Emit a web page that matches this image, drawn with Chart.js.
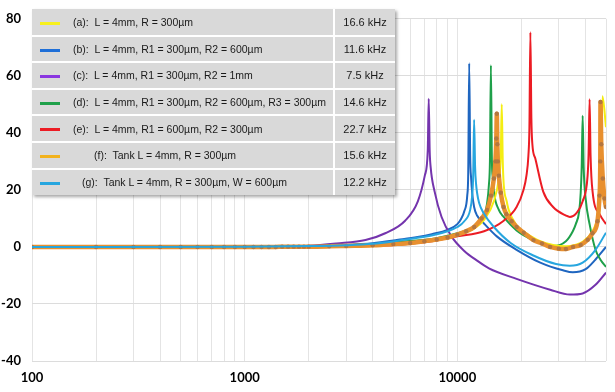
<!DOCTYPE html>
<html>
<head>
<meta charset="utf-8">
<script src="https://cdn.jsdelivr.net/npm/chart.js@4.4.1/dist/chart.umd.min.js"></script>
<style>
  html, body { margin: 0; padding: 0; background: #fff; }
  #wrap { position: relative; width: 615px; height: 392px; }
  #legendBox {
    position: absolute; left: 32px; top: 9px; width: 363px;
    border-collapse: collapse; background: #d9d9d9;
    box-shadow: 2px 2px 3px rgba(0, 0, 0, 0.35);
    font: 10.5px "Liberation Sans", Arial, sans-serif; color: #1a1a1a;
  }
  #legendBox tr { height: 26.6px; }
  #legendBox td { padding: 0; white-space: pre; border-bottom: 2px solid #fff; }
  #legendBox tr:last-child td { border-bottom: none; }
  #legendBox td.name { width: 301px; }
  #legendBox td.freq { border-left: 2px solid #fff; text-align: center; font-size: 11px; }
  #legendBox .swatch {
    display: inline-block; width: 20px; height: 3px; vertical-align: middle;
    margin: 0 13px 0 8px;
  }
  #legendBox tr:nth-child(6) .swatch { margin-right: 34px; }
  #legendBox tr:nth-child(7) .swatch { margin-right: 22px; }
</style>
</head>
<body>
<div id="wrap">
  <canvas id="myChart" width="615" height="392"></canvas>
  <table id="legendBox"><tbody id="legendBody"></tbody></table>
</div>
<script>
// legend texts
const seriesNames = [
    '(a):  L = 4mm, R = 300µm',
    '(b):  L = 4mm, R1 = 300µm, R2 = 600µm',
    '(c):  L = 4mm, R1 = 300µm, R2 = 1mm',
    '(d):  L = 4mm, R1 = 300µm, R2 = 600µm, R3 = 300µm',
    '(e):  L = 4mm, R1 = 600µm, R2 = 300µm',
    '(f):  Tank L = 4mm, R = 300µm',
    '(g):  Tank L = 4mm, R = 300µm, W = 600µm'
];
const resonance = ['16.6 kHz', '11.6 kHz', '7.5 kHz', '14.6 kHz', '22.7 kHz', '15.6 kHz', '12.2 kHz'];

// x axis gridlines / labels
const xTicks = [100, 200, 300, 400, 500, 600, 700, 800, 900,
    1000, 2000, 3000, 4000, 5000, 6000, 7000, 8000, 9000,
    10000, 20000, 30000, 40000, 50000];
const xLabels = [100, 1000, 10000];

// (a)
const freqA = [100, 1000, 2000, 3000, 5000, 7600, 10000, 12000, 13350, 14850, 15670, 16000, 16170, 16350, 16520, 17060, 17430, 18990, 20460, 24540, 28200, 32390, 36050, 38840, 43240, 45610, 47100, 48120, 50000];
const gainA = [0, 0, 0.1, 0.3, 0.9, 2.2, 4, 6.5, 9.5, 16, 24, 32, 50, 30, 22, 16, 13, 7.5, 5.5, 2, 0.7, 0.2, 0.8, 1.8, 5.5, 10, 18, 52.8, 42];
// (b)
const freqB = [100, 1000, 2000, 3000, 4000, 5270, 6500, 7580, 8990, 10000, 10440, 10780, 11130, 11250, 11370, 11490, 11610, 11740, 11990, 12380, 13350, 15330, 18990, 24540, 31370, 34910, 40100, 44640, 50000];
const gainB = [0, 0.1, 0.3, 0.7, 1.3, 2.5, 3.5, 4.5, 6, 8, 10, 12.5, 18, 26, 64.4, 32, 24, 19, 14, 11, 8.2, 3.7, -1, -5.5, -8.2, -8.9, -7.8, -4.4, 0];
// (c)
const freqC = [100, 1000, 1500, 2000, 2700, 3700, 4580, 5680, 6520, 7030, 7260, 7335, 7410, 7490, 7820, 8430, 9380, 10780, 12380, 14080, 18990, 27310, 33810, 38840, 44640, 50000];
const gainC = [0, 0.1, 0.25, 0.4, 1.2, 2.4, 4.8, 9.2, 16, 25, 34, 52, 34, 28, 19.4, 10.5, 3.7, -1.4, -4.8, -7.5, -11.2, -15, -16.7, -16.3, -13.3, -9];
// (d)
const freqD = [100, 1000, 2000, 3000, 4000, 5270, 7580, 10000, 10780, 12000, 12920, 13350, 13780, 14080, 14230, 14380, 14540, 14690, 14850, 15670, 16520, 18990, 22770, 28200, 32390, 34910, 36050, 37400, 38020, 38430, 38840, 39260, 40100, 41860, 44640, 47100, 50000];
const gainD = [0, 0.1, 0.3, 0.6, 1, 1.8, 2.8, 4.8, 5.5, 7, 8.8, 10.5, 15, 22, 30, 63.7, 30, 24, 19.4, 13, 10.5, 5.8, 2.4, 0.3, 2, 5.5, 8, 12.5, 19, 28, 46, 28, 17, 8, -1, -4.5, -7];
// (e)
const freqE = [100, 1000, 2000, 3000, 3700, 5270, 7580, 10000, 13350, 16520, 18990, 20460, 21130, 21580, 21820, 22050, 22290, 22530, 23260, 25340, 28200, 32390, 33810, 36050, 38840, 40970, 41420, 41860, 42310, 43240, 46600, 50000];
const gainE = [0, 0, 0.1, 0.2, 0.3, 0.8, 2, 3.7, 5.5, 9.2, 14, 20, 25, 32, 42, 75.3, 45, 36, 31, 19.4, 14, 11, 10.5, 11.6, 16, 25, 33, 51.8, 32, 19.4, 11.6, 8];
// (f) tank, sampled every 100 Hz at the low end
const freqF = [100, 200, 300, 400, 500, 600, 700, 800, 900, 1000, 1100, 1200, 1300, 1400, 1500, 1600, 1700, 1800, 1900, 2000,
    2500, 3000, 4000, 5000, 6000, 7000, 8000, 9000, 10000, 11000, 12000, 13000, 13800, 14400, 14850, 15100, 15250, 15330, 15420, 15500,
    15670, 16000, 16500, 17000, 18000, 19000, 20500, 22800, 25000, 27300, 30000, 32400, 35000, 38000, 41000, 43200, 45600, 46600, 47000, 47100,
    47500, 48300, 49200, 50000];
const gainF = [0, 0, 0, 0, 0, 0, 0, 0, 0, 0, 0, 0, 0, 0, 0.1, 0.1, 0.1, 0.1, 0.1, 0.1,
    0.2, 0.35, 0.6, 1, 1.4, 2, 2.6, 3.3, 4.3, 5.5, 7, 10, 13, 18, 24, 30, 38, 46.7, 36, 30,
    25, 19, 14, 11.5, 9, 7, 5, 2.4, 1.2, 0, -0.6, -0.7, 0, 0.7, 2.5, 4.8, 9, 18, 30, 50.8,
    36, 24, 17, 14];
// (g) tank
const freqG = [100, 1000, 2000, 3000, 4000, 5270, 6500, 7580, 8990, 10000, 10780, 11490, 11740, 11870, 11990, 12120, 12250, 12380, 12650, 13350, 14850, 17810, 22770, 29110, 33810, 38840, 44640, 50000];
const gainG = [0, 0.1, 0.3, 0.6, 1.1, 2.2, 3.2, 4, 5.5, 7, 9, 13, 18, 25, 44.6, 28, 22, 19, 15.5, 11.6, 7, 1.4, -3, -6, -6.6, -5.5, -1, 5];

const lineColors = ['#f4ed12', '#1f66c0', '#7434ad', '#1fa04a', '#ec1c24', '#e8902f', '#27a6df'];
const swatchColors = ['#f7f01c', '#1f6fd8', '#8a36e0', '#1fa04a', '#ec1c24', '#f2b21c', '#27a6df'];

function pairs(freq, gain) {
    return freq.map((f, i) => ({ x: f, y: gain[i] }));
}

// legend table
const body = document.getElementById('legendBody');
seriesNames.forEach((name, i) => {
    const row = document.createElement('tr');
    row.innerHTML = `<td class="name"><span class="swatch" style="background:${swatchColors[i]}"></span>${name}</td>` +
        `<td class="freq">${resonance[i]}</td>`;
    body.appendChild(row);
});

const allData = [
    [freqA, gainA], [freqB, gainB], [freqC, gainC], [freqD, gainD],
    [freqE, gainE], [freqF, gainF], [freqG, gainG]
];
const drawOrder = [3, 6, 5, 4, 2, 1, 0];

const datasets = allData.map((d, i) => ({
    label: seriesNames[i],
    data: pairs(d[0], d[1]),
    borderColor: lineColors[i],
    backgroundColor: lineColors[i],
    borderWidth: i === 5 ? 4.5 : 2,
    pointRadius: i === 5 ? 2.2 : 0,
    pointBackgroundColor: '#b4763f',
    pointBorderWidth: 0,
    fill: false,
    order: drawOrder[i]
}));

const axisFont = { family: 'Lato, "Open Sans", sans-serif', size: 13, weight: 'bold' };

new Chart(document.getElementById('myChart').getContext('2d'), {
    type: 'line',
    data: { datasets: datasets },
    options: {
        responsive: false,
        animation: false,
        layout: { padding: { top: 9, right: 3, left: 0, bottom: 0 } },
        elements: { line: { cubicInterpolationMode: 'monotone' } },
        plugins: { legend: { display: false }, tooltip: { enabled: false } },
        scales: {
            x: {
                type: 'logarithmic',
                min: 100,
                max: 50000,
                afterBuildTicks: scale => { scale.ticks = xTicks.map(v => ({ value: v })); },
                afterFit: scale => { scale.height = 31; },
                ticks: {
                    autoSkip: false,
                    maxRotation: 0,
                    padding: 9,
                    color: '#000',
                    font: axisFont,
                    callback: value => xLabels.includes(value) ? String(value) : ''
                },
                grid: { color: '#e4e4e4', drawTicks: false },
                border: { display: false }
            },
            y: {
                min: -40,
                max: 80,
                afterFit: scale => { scale.width = 32; },
                ticks: { stepSize: 20, padding: 11, color: '#000', font: axisFont },
                grid: { color: '#dcdcdc', drawTicks: false },
                border: { display: false }
            }
        }
    }
});
</script>
</body>
</html>
